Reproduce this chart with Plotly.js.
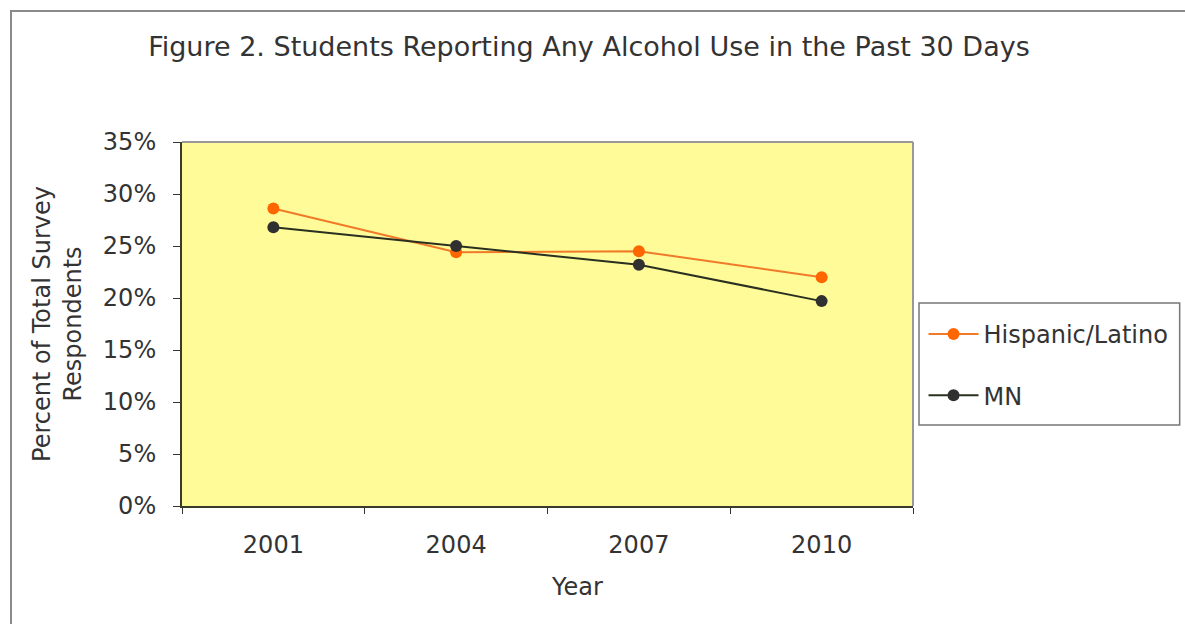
<!DOCTYPE html>
<html>
<head>
<meta charset="utf-8">
<script src="https://cdn.plot.ly/plotly-3.0.1.min.js"></script>
<style>
html,body{margin:0;padding:0;background:#fff;width:1185px;height:624px;overflow:hidden;}
#frame{position:absolute;left:10px;top:10px;width:1185px;height:624px;border-top:2px solid #8a8a8a;border-left:2px solid #8a8a8a;}
#chart{position:absolute;left:0;top:0;width:1185px;height:624px;}
</style>
</head>
<body>
<div id="frame"></div>
<div id="chart"></div>
<script>
const years = ['2001', '2004', '2007', '2010'];
const hispanic = [28.6, 24.4, 24.5, 22.0];
const mn = [26.8, 25.0, 23.2, 19.7];
const yTicks = [0, 5, 10, 15, 20, 25, 30, 35];
const yTickLabels = ['0%', '5%', '10%', '15%', '20%', '25%', '30%', '35%'];

const font = 'DejaVu Sans, Liberation Sans, Arial, sans-serif';
const txt = '#333333';

const traces = [
  {
    x: years, y: hispanic, name: 'Hispanic/Latino', type: 'scatter', mode: 'lines+markers',
    line: {color: '#F07A28', width: 2},
    marker: {color: '#FF6600', size: 12},
    legendgroup: 'a'
  },
  {
    x: years, y: mn, name: 'MN', type: 'scatter', mode: 'lines+markers',
    line: {color: '#2A3020', width: 2},
    marker: {color: '#303030', size: 12},
    legendgroup: 'b'
  }
];

const layout = {
  width: 1185, height: 624,
  margin: {l: 182, r: 271, t: 142, b: 118},
  paper_bgcolor: 'rgba(0,0,0,0)',
  plot_bgcolor: '#FFFB99',
  font: {family: font, color: txt, size: 24},
  title: {
    text: 'Figure 2. Students Reporting Any Alcohol Use in the Past 30 Days',
    font: {family: font, size: 27, color: txt},
    x: 0.497, xanchor: 'center', y: 0.925, yanchor: 'middle'
  },
  xaxis: {
    type: 'category',
    range: [-0.5, 3.5],
    tickson: 'boundaries',
    ticks: 'outside', ticklen: 6, tickcolor: '#333',
    showline: true, linecolor: '#3a3a2a', linewidth: 2,
    showgrid: false, zeroline: false,
    tickfont: {size: 24, color: txt},
    ticklabelstandoff: 16,
    fixedrange: true
  },
  yaxis: {
    range: [0, 35],
    tickvals: yTicks, ticktext: yTickLabels,
    ticks: 'outside', ticklen: 7, tickcolor: '#333',
    showline: true, linecolor: '#3a3a2a', linewidth: 2,
    showgrid: false, zeroline: false,
    tickfont: {size: 24, color: txt},
    ticklabelstandoff: 12,
    title: {text: 'Percent of Total Survey<br>Respondents', font: {size: 24, color: txt}, standoff: 14},
    fixedrange: true
  },
  annotations: [
    {text: 'Year', xref: 'paper', yref: 'paper', x: 0.541, y: -0.2225, xanchor: 'center', yanchor: 'middle',
     showarrow: false, font: {size: 24, color: txt}}
  ],
  shapes: [
    {type: 'line', xref: 'paper', yref: 'paper', x0: 0, x1: 1, y0: 1, y1: 1, line: {color: '#999999', width: 2}},
    {type: 'line', xref: 'paper', yref: 'paper', x0: 1, x1: 1, y0: 0, y1: 1, line: {color: '#999999', width: 2}},
    {type: 'rect', xref: 'paper', yref: 'paper', x0: 1.0082, x1: 1.3648, y0: 0.2225, y1: 0.5577,
     fillcolor: '#ffffff', line: {color: '#777777', width: 1.5}, layer: 'above'}
  ],
  legend: {
    x: 1.013, xanchor: 'left', y: 0.533, yanchor: 'top',
    bgcolor: 'rgba(0,0,0,0)', borderwidth: 0,
    font: {size: 24, color: txt},
    tracegroupgap: 27,
    itemwidth: 50
  },
  showlegend: true
};

Plotly.newPlot('chart', traces, layout, {displayModeBar: false, staticPlot: true});
</script>
</body>
</html>
